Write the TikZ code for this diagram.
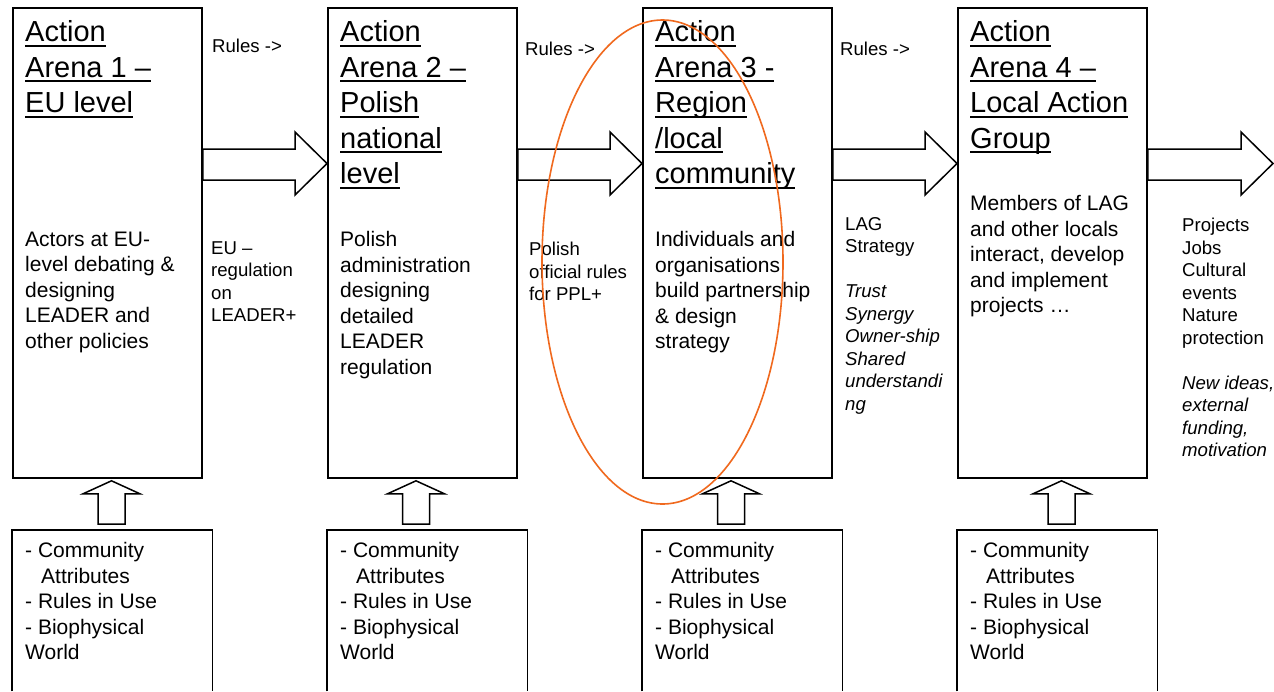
\documentclass[tikz,border=0pt]{standalone}
\usepackage{fontspec}
\setmainfont{Liberation Sans}
\usetikzlibrary{calc}
\definecolor{ringorange}{RGB}{240,105,30}
\newcommand\ulx[1]{\leavevmode\setbox0=\hbox{#1}\rlap{\rule[-5pt]{\wd0}{2.2pt}}\box0}
\newcommand\rightblock[2]{%
  \draw[blockarrow] let \p1=(#1), \p2=(#2) in
    (\x1,\y1-142pt) -- (\x2-32pt,\y1-142pt) -- (\x2-32pt,\y1-125pt) -- (\x2,\y1-156.5pt)
    -- (\x2-32pt,\y1-188pt) -- (\x2-32pt,\y1-173pt) -- (\x1,\y1-173pt) -- cycle;}
\newcommand\upblock[3]{%
  \draw[blockarrow] let \p1=(#2.north), \p2=(#3.south) in
    (#1pt-13.5pt,\y1+6pt) -- (#1pt-13.5pt,\y2-15pt) -- (#1pt-28.5pt,\y2-15pt) -- (#1pt,\y2-2pt)
    -- (#1pt+28.5pt,\y2-15pt) -- (#1pt+13.5pt,\y2-15pt) -- (#1pt+13.5pt,\y1+6pt) -- cycle;}
\begin{document}
\begin{tikzpicture}[x=1pt,y=-1pt,
  arena/.style={draw, line width=1.8pt, inner sep=0pt, anchor=north west, minimum width=189pt, minimum height=470pt},
  basebox/.style={inner sep=0pt, anchor=north west, minimum width=200pt, minimum height=161pt},
  frame/.style={line width=1.8pt},
  blockarrow/.style={draw, line width=1.5pt, fill=white, line join=miter},
  title/.style={anchor=north west, inner sep=0pt, align=left, font=\fontsize{29}{35.5}\selectfont},
  body/.style={anchor=north west, inner sep=0pt, align=left, font=\fontsize{21}{25.5}\selectfont},
  small/.style={anchor=north west, inner sep=0pt, align=left, font=\fontsize{18.6}{22.5}\selectfont},
  ring/.style={draw=ringorange, line width=1.6pt}]
\useasboundingbox (0,0) rectangle (1274,691);
\fill[white] (0,0) rectangle (1274,691);

% action arena boxes
\node[arena] (A1) at (12,7) {};
\node[arena] (A2) at (327,7) {};
\node[arena] (A3) at (642,7) {};
\node[arena] (A4) at (957,7) {};
\coordinate (Out) at (1273,7);

% base boxes (open at the bottom)
\node[basebox] (B1) at (12,530) {};
\node[basebox] (B2) at (327,530) {};
\node[basebox] (B3) at (642,530) {};
\node[basebox] (B4) at (957,530) {};
\foreach \b in {B1,B2,B3,B4}
  \draw[frame] (\b.south west) -- (\b.north west) -- (\b.north east) -- (\b.south east);

% horizontal block arrows
\rightblock{A1.north east}{A2.north west}
\rightblock{A2.north east}{A3.north west}
\rightblock{A3.north east}{A4.north west}
\rightblock{A4.north east}{Out}

% upward block arrows
\upblock{111.5}{B1}{A1}
\upblock{416}{B2}{A2}
\upblock{731}{B3}{A3}
\upblock{1061.5}{B4}{A4}

% titles
\node[title] (T1) at (25,20.5) {\ulx{Action}\\\ulx{Arena 1 –}\\\ulx{EU level}};
\node[title] (T2) at (340,20.5) {\ulx{Action}\\\ulx{Arena 2 –}\\\ulx{Polish}\\\ulx{national}\\\ulx{level}};
\node[title] (T3) at (655,20.5) {\ulx{Action}\\\ulx{Arena 3 -}\\\ulx{Region}\\\ulx{/local}\\\ulx{community}};
\node[title] (T4) at (970,20.5) {\ulx{Action}\\\ulx{Arena 4 –}\\\ulx{Local Action}\\\ulx{Group}};

% body texts
\node[body] (D1) at (25,231.5) {Actors at EU-\\level debating \&\\designing\\LEADER and\\other policies};
\node[body] (D2) at (340,231.5) {Polish\\administration\\designing\\detailed\\LEADER\\regulation};
\node[body] (D3) at (655,231.5) {Individuals and\\organisations\\build partnership\\\& design\\strategy};
\node[body] (D4) at (970,195.5) {Members of LAG\\and other locals\\interact, develop\\and implement\\projects …};

% rules labels
\node[small] (R1) at (212,39.3) {Rules ->};
\node[small] (R2) at (525,42.3) {Rules ->};
\node[small] (R3) at (840,42.3) {Rules ->};

% flow labels
\node[small] (L1) at (211,241.3) {EU –\\regulation\\on\\LEADER+};
\node[small] (L2) at (529,242.3) {Polish\\official rules\\for PPL+};
\node[small] (L3) at (845,217.3) {LAG\\Strategy\\[22.5pt]\textit{Trust}\\\textit{Synergy}\\\textit{Owner-ship}\\\textit{Shared}\\\textit{understandi}\\\textit{ng}};
\node[small] (L4) at (1182,218.3) {Projects\\Jobs\\Cultural\\events\\Nature\\protection\\[22.5pt]\textit{New ideas,}\\\textit{external}\\\textit{funding,}\\\textit{motivation}};

% base box texts
\foreach \b/\x in {1/25,2/340,3/655,4/970}
  \node[body] (C\b) at (\x,542.5) {- Community\\\hspace*{16pt}Attributes\\- Rules in Use\\- Biophysical\\World};

% highlight ellipse
\draw[ring] (662.5,262) ellipse [x radius=120.5, y radius=242];
\end{tikzpicture}
\end{document}
